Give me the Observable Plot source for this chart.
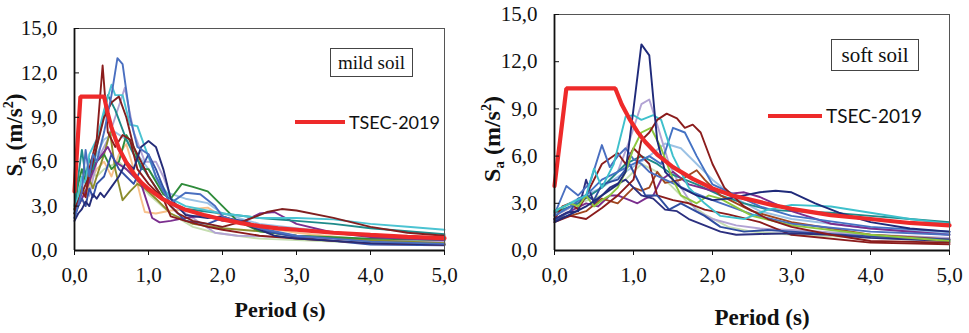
<!DOCTYPE html>
<html>
<head>
<meta charset="utf-8">
<script src="https://cdn.jsdelivr.net/npm/d3@7"></script>
<script src="https://cdn.jsdelivr.net/npm/@observablehq/plot@0.6"></script>
<style>
  body { margin: 0; background: #fff; }
  #wrap { position: relative; width: 969px; height: 333px; background: #fff; overflow: hidden; }
  .panel { position: absolute; top: 0; }
  .ylab { position: absolute; transform: translate(-50%, -50%) rotate(-90deg); white-space: nowrap;
          font: bold 23px "Liberation Serif", "Times New Roman", serif; color: #111; }
  .ylab sub { font-size: 15px; vertical-align: -4px; }
  .ylab sup { font-size: 14px; vertical-align: 9px; }
  .xlab { position: absolute; transform: translate(-50%, -50%); white-space: nowrap;
          font: bold 22px "Liberation Serif", "Times New Roman", serif; color: #111; }
  .box { position: absolute; border: 1px solid #444; background: #fff; box-sizing: border-box;
         font: 19px "Liberation Serif", "Times New Roman", serif; color: #111;
         display: flex; align-items: center; justify-content: center; }
  .leg { position: absolute; white-space: nowrap; font: 18px Lato, "Open Sans", sans-serif; color: #111;
         display: flex; align-items: center; }
  .leg .sw { display: inline-block; height: 4px; background: #EE2A2A; margin-right: 4px; }
</style>
</head>
<body>
<div id="wrap">
  <div id="left" class="panel" style="left:0"></div>
  <div id="right" class="panel" style="left:480px"></div>
  <div class="ylab" style="left:15px; top:135px">S<sub>a</sub> (m/s<sup>2</sup>)</div>
  <div class="ylab" style="left:493px; top:139px; font-size:24px">S<sub>a</sub> (m/s<sup>2</sup>)</div>
  <div class="xlab" style="left:280px; top:310px">Period (s)</div>
  <div class="xlab" style="left:762px; top:318px; font-size:23px">Period (s)</div>
  <div class="box" style="left:330px; top:48px; width:83px; height:29px">mild soil</div>
  <div class="box" style="left:831px; top:39px; width:88px; height:32px; font-size:21px">soft soil</div>
  <div class="leg" style="left:295px; top:111px"><span class="sw" style="width:50px"></span>TSEC-2019</div>
  <div class="leg" style="left:768px; top:104px; font-size:19px"><span class="sw" style="width:54px"></span>TSEC-2019</div>
</div>
<script>
// ---------- tick values ----------
const periodTicks = [0, 1, 2, 3, 4, 5];
const saTicks = [0, 3, 6, 9, 12, 15];

// ---------- TSEC-2019 design spectra [T (s), Sa (m/s2)] ----------
const tsecMild = [[0,4.0],[0.08,10.4],[0.4,10.4],[0.45,9.25],[0.5,8.3],[0.6,6.9],[0.7,5.95],[0.8,5.2],[0.9,4.6],[1.0,4.15],[1.1,3.8],[1.2,3.45],[1.3,3.2],[1.5,2.75],[1.75,2.4],[2.0,2.1],[2.25,1.85],[2.5,1.65],[2.75,1.5],[3.0,1.4],[3.5,1.2],[4.0,1.05],[4.5,0.92],[5.0,0.83]];
const tsecSoft = [[0,4.1],[0.15,10.3],[0.77,10.3],[0.85,9.3],[0.95,8.35],[1.05,7.55],[1.15,6.9],[1.3,6.1],[1.5,5.3],[1.75,4.55],[2.0,3.95],[2.25,3.5],[2.5,3.2],[2.75,2.9],[3.0,2.65],[3.5,2.25],[4.0,2.0],[4.5,1.75],[5.0,1.6]];

// ---------- mild soil records [T, Sa] ----------
const mildLightGreen = [[0,2.5],[0.1,4.5],[0.2,5.5],[0.3,5],[0.4,5.5],[0.6,6],[0.8,5],[1.0,3.8],[1.3,2.5],[1.6,1.6],[1.9,1.2],[2.2,1.0],[2.5,0.8],[3,0.7],[4,0.5],[5,0.4]];
const mildPeach = [[0,2.5],[0.1,3.5],[0.15,3.0],[0.2,4.5],[0.3,5.5],[0.4,6],[0.5,5],[0.6,6.5],[0.7,7.2],[0.8,5.5],[0.9,3.5],[0.95,2.6],[1.1,2.5],[1.3,2.7],[1.6,2.8],[1.8,2.9],[2.0,2.3],[2.5,1.6],[3,1.2],[4,0.7],[5,0.5]];
const mildLightBlue = [[0,2.7],[0.1,4.5],[0.2,5.5],[0.4,7.5],[0.55,8],[0.7,7.5],[0.85,6.5],[1.0,5.5],[1.2,4],[1.5,3.5],[1.8,3.2],[2.0,2.5],[2.5,1.8],[3,1.5],[4,1.0],[5,0.8]];
const mildLavender = [[0,2.5],[0.1,3.6],[0.15,4],[0.2,3.7],[0.3,6],[0.45,7.5],[0.55,9],[0.68,11],[0.8,8],[0.95,6],[1.1,6],[1.2,5],[1.35,3],[1.6,2.2],[1.9,1.2],[2.2,1.0],[3,0.9],[4,0.7],[5,0.6]];
const mildOlive = [[0,2.5],[0.1,4.3],[0.15,3.8],[0.2,4.8],[0.25,4.2],[0.3,5],[0.4,6.5],[0.48,8],[0.55,5.5],[0.65,3.4],[0.75,4],[0.85,4.5],[0.95,4.2],[1.1,3.5],[1.3,2.5],[1.6,1.8],[2,1.5],[2.5,1.3],[3,1.0],[4,0.7],[5,0.5]];
const mildGreen = [[0,2.8],[0.05,4.5],[0.1,5.5],[0.15,4.6],[0.2,5],[0.3,6],[0.4,6.5],[0.5,5.5],[0.6,6],[0.7,7.8],[0.8,7],[0.9,5.5],[1.0,5.5],[1.2,3.8],[1.3,3.5],[1.45,4.5],[1.6,4.3],[1.8,4.0],[2.0,3],[2.2,2.0],[2.5,1.3],[3,1.0],[4,0.8],[5,0.7]];
const mildPurple = [[0,2.5],[0.15,4],[0.3,6],[0.45,7],[0.55,6],[0.7,5.5],[0.9,4.5],[1.05,2.2],[1.15,1.9],[1.3,2],[1.5,2.2],[1.8,2.4],[2.0,2.0],[2.3,2.0],[2.5,2.5],[2.7,2.6],[3,1.8],[3.5,1.2],[4,0.9],[5,0.7]];
const mildTeal = [[0,3],[0.05,5],[0.1,6.8],[0.15,5],[0.2,6.2],[0.25,5.5],[0.3,7],[0.45,10.5],[0.55,9.5],[0.7,7.5],[0.8,6.5],[1.0,5],[1.2,3.5],[1.5,2.8],[2,2.5],[2.5,2.2],[3,2.0],[3.5,1.8],[4,1.5],[5,1.1]];
const mildCyan = [[0,2.5],[0.1,5],[0.15,4.5],[0.2,6.5],[0.3,7.5],[0.4,9.5],[0.5,11.2],[0.55,10.5],[0.65,10.5],[0.75,8.5],[0.85,8.4],[0.95,7],[1.1,5],[1.3,3.5],[1.5,3],[2,2.5],[2.5,2.2],[3,2.2],[3.5,2.1],[4,1.8],[4.5,1.6],[5,1.4]];
const mildRoyal = [[0,2.2],[0.05,3],[0.1,3.5],[0.15,3.0],[0.2,4.2],[0.25,3.6],[0.3,4.5],[0.4,5],[0.5,6.5],[0.6,5.5],[0.7,5],[0.8,4.5],[1.0,6.5],[1.1,5.5],[1.3,3],[1.5,2.0],[1.8,1.8],[2,2.2],[2.3,2.0],[2.6,1.3],[3,0.9],[4,0.4],[5,0.35]];
const mildMaroonLong = [[0,2.8],[0.2,5],[0.4,9],[0.5,10],[0.6,10.4],[0.7,9],[0.8,7],[1.0,5],[1.2,3.5],[1.4,2.5],[1.6,2.0],[1.8,1.8],[2,1.6],[2.3,2.0],[2.6,2.6],[2.8,2.8],[3.0,2.7],[3.5,2.2],[4,1.6],[4.5,1.2],[5,1.0]];
const mildMaroon = [[0,2.5],[0.1,4],[0.15,3.6],[0.2,5.5],[0.3,7.5],[0.38,12.5],[0.45,8],[0.55,7],[0.65,7.8],[0.75,7.5],[0.85,5.5],[1.0,4.5],[1.2,3.5],[1.3,2.3],[1.5,2.0],[1.8,1.6],[2.0,1.4],[2.5,1.0],[3,0.8],[4,0.5],[5,0.4]];
const mildNavy = [[0,2],[0.05,2.5],[0.1,2.8],[0.15,3.3],[0.2,3.0],[0.25,3.8],[0.3,3.5],[0.35,3.9],[0.4,3.6],[0.5,4.3],[0.6,5],[0.7,6],[0.8,5.5],[0.9,7],[1.0,7.4],[1.1,7],[1.2,5.5],[1.3,3.5],[1.5,2.4],[1.8,2.2],[2.0,2.3],[2.3,1.8],[2.7,1.0],[3,0.8],[4,0.5],[5,0.4]];
const mildBlue = [[0,2.2],[0.1,4],[0.15,6.8],[0.2,5],[0.25,6.5],[0.3,6],[0.4,8],[0.5,10.5],[0.58,13],[0.65,12.6],[0.75,9],[0.85,7],[1.0,6.5],[1.1,5],[1.2,4],[1.3,3.2],[1.5,3.9],[1.7,3.8],[1.9,3.0],[2.0,2.3],[2.5,1.5],[3,1.0],[4,0.6],[5,0.45]];

const mildSeries = [mildLightGreen, mildPeach, mildLightBlue, mildLavender, mildOlive, mildGreen, mildPurple, mildTeal, mildCyan, mildRoyal, mildMaroonLong, mildMaroon, mildNavy, mildBlue];
const mildColors = ["#C5DEB0", "#F8C08A", "#9CC2E5", "#B2A3D4", "#8C8C2C", "#2E8B3A", "#7B2E8E", "#1E8A8A", "#4BC3D2", "#3552A8", "#801F1F", "#8B1C1C", "#252C78", "#4A6FC0"];

// ---------- soft soil records [T, Sa] ----------
const softPaleGreen = [[0,2.2],[0.3,3],[0.6,3.5],[0.9,4.5],[1.1,5.5],[1.3,5],[1.5,4],[1.7,3],[1.9,2.3],[2.2,1.5],[2.5,1.2],[3,1.0],[4,0.8],[5,0.6]];
const softLightBlue = [[0,2.5],[0.3,3.3],[0.6,4],[0.9,5],[1.2,6],[1.4,6.8],[1.6,6.5],[1.8,5.5],[2.0,4.5],[2.3,3.3],[2.6,2.5],[3,2.0],[4,1.4],[5,1.1]];
const softLavender = [[0,2.2],[0.3,3],[0.6,4],[0.8,5],[0.95,7],[1.1,9.3],[1.2,9.6],[1.3,8],[1.45,5.5],[1.6,4],[1.8,2.5],[2,2.0],[2.3,1.6],[2.6,1.4],[3,1.3],[4,1.0],[5,0.8]];
const softTeal = [[0,2.4],[0.3,3],[0.6,4],[0.9,5.5],[1.1,6],[1.3,5.5],[1.5,4.8],[1.8,4.2],[2.1,3.5],[2.4,3],[2.7,2.6],[3,2.5],[3.5,2.4],[4,2.2],[4.5,2.0],[5,1.8]];
const softPurple = [[0,2],[0.2,2.5],[0.4,3],[0.55,2.8],[0.7,3.5],[0.8,3.5],[0.95,3.2],[1.05,3],[1.15,3.3],[1.25,3.5],[1.35,4.5],[1.5,5],[1.7,4.2],[2,3.8],[2.2,3.6],[2.4,3.7],[2.6,3.4],[3,2.5],[3.5,1.7],[4,1.4],[5,1.0]];
const softBrown = [[0,2],[0.2,2.2],[0.4,2.5],[0.6,3.3],[0.8,3],[1.0,4],[1.1,3.8],[1.2,4],[1.3,5],[1.4,4.3],[1.6,4.5],[1.8,5.1],[1.9,4.5],[2.1,3.5],[2.5,2.5],[3,1.8],[4,1.0],[5,0.7]];
const softDarkRed = [[0,2],[0.1,2.8],[0.2,3],[0.3,2.6],[0.4,3.5],[0.6,5.5],[0.8,6.2],[0.9,5.5],[1.0,6.5],[1.1,6],[1.2,5.5],[1.3,3.5],[1.5,3.2],[1.7,3],[1.9,2.6],[2.2,2.3],[2.6,1.8],[3,1.0],[4,0.5],[5,0.4]];
const softRoyal = [[0,1.9],[0.2,2.5],[0.3,3.3],[0.4,3.5],[0.5,3.2],[0.6,4.2],[0.8,4.5],[0.95,5.5],[1.05,4.5],[1.15,3.5],[1.3,3.5],[1.45,2.6],[1.6,3],[1.75,2.6],[1.9,2.2],[2.1,1.5],[2.4,1.2],[2.7,1.3],[3,1.2],[4,0.9],[5,0.7]];
const softNavyLow = [[0,2],[0.15,2.4],[0.3,2.5],[0.4,4.5],[0.5,3],[0.7,4],[0.9,4.5],[1.0,4.0],[1.1,3.5],[1.25,3.3],[1.4,2.6],[1.55,2.5],[1.7,2],[1.9,1.6],[2.1,1.2],[2.3,1.0],[2.6,1.05],[3,1.1],[3.5,1.0],[4,0.8],[5,0.6]];
const softMidBlue = [[0,2.3],[0.15,4.1],[0.3,3.5],[0.45,4.3],[0.6,6.7],[0.7,5.3],[0.8,6],[0.9,6.5],[1.0,5.8],[1.1,5.5],[1.2,5],[1.4,4.5],[1.7,3.8],[2,3.2],[2.5,2.3],[3,1.7],[4,1.2],[5,1.0]];
const softBlue = [[0,2.2],[0.2,2.8],[0.4,3.5],[0.6,4.5],[0.8,5],[1,5.5],[1.2,6],[1.35,5.5],[1.5,7.8],[1.65,7.5],[1.8,6],[2.0,4.2],[2.3,3.5],[2.6,2.8],[3,2.2],[4,1.5],[5,1.2]];
const softLime = [[0,2.5],[0.2,3],[0.3,2.8],[0.4,3.5],[0.5,2.8],[0.6,3.2],[0.7,3.5],[0.8,4],[0.9,5],[1.0,6.5],[1.1,7.5],[1.22,7.8],[1.35,6.5],[1.5,4.5],[1.6,3.5],[1.8,3.0],[1.95,3.5],[2.1,3.3],[2.5,2.2],[3,1.6],[4,1.0],[5,0.6]];
const softCyan = [[0,2.5],[0.2,3],[0.4,3.5],[0.5,5.2],[0.6,4],[0.75,5.5],[0.9,8.5],[1.0,8.6],[1.1,8.3],[1.25,8.6],[1.35,8.3],[1.5,6],[1.7,4],[1.9,3],[2.1,2.2],[2.4,2.0],[2.7,2.6],[3,2.9],[3.5,2.8],[4,2.4],[4.5,2.0],[5,1.7]];
const softMaroon = [[0,1.8],[0.2,2.2],[0.4,2.0],[0.6,2.7],[0.8,3.5],[1.0,4.5],[1.1,7],[1.2,7.5],[1.3,8.3],[1.42,8.7],[1.55,8.4],[1.65,7.8],[1.75,8],[1.85,7.5],[2,5.5],[2.15,4],[2.4,2.8],[2.7,2.0],[3,1.5],[3.5,1.0],[4,0.6],[5,0.5]];
const softNavy = [[0,1.8],[0.2,2.3],[0.4,2.8],[0.6,3.5],[0.8,4.2],[0.9,5],[1.0,9],[1.1,13.1],[1.2,12.4],[1.3,7],[1.4,5],[1.6,4],[1.8,3.5],[2.0,3.2],[2.2,3.3],[2.4,3.5],[2.6,3.7],[2.8,3.8],[3.0,3.7],[3.3,3],[3.6,2.4],[4,1.8],[4.5,1.4],[5,1.2]];

const softSeries = [softPaleGreen, softLightBlue, softLavender, softTeal, softPurple, softBrown, softDarkRed, softRoyal, softNavyLow, softMidBlue, softBlue, softLime, softCyan, softMaroon, softNavy];
const softColors = ["#C5DEB0", "#9CC2E5", "#B2A3D4", "#1E8A8A", "#7B2E8E", "#A0461E", "#8B1C1C", "#2E4DA0", "#2B2F7F", "#4A6FC0", "#4472C4", "#8DC63F", "#3EC0CC", "#8B1C1C", "#1F2A7A"];

// ---------- drawing ----------
const fmt = d => d.toFixed(1).replace(".", ",");

function panel({series, colors, design, width, marginTop, marginRight, fontSize}) {
  return Plot.plot({
    width, height: 333,
    marginLeft: 74, marginRight, marginTop, marginBottom: 83,
    x: {domain: [0, 5]},
    y: {domain: [0, 15]},
    style: {fontFamily: '"Liberation Serif", "Times New Roman", serif', fontSize: fontSize + "px", color: "#111", background: "transparent", overflow: "visible"},
    marks: [
      ...series.map((s, i) => Plot.line(s, {x: d => d[0], y: d => d[1], stroke: colors[i], strokeWidth: 1.9})),
      Plot.line(design, {x: d => d[0], y: d => d[1], stroke: "#EE2A2A", strokeWidth: 4.2, strokeLinejoin: "miter"}),
      Plot.frame({stroke: "#555", strokeWidth: 1}),
      Plot.ruleX([0], {stroke: "#111", strokeWidth: 1.8}),
      Plot.ruleY([0], {stroke: "#111", strokeWidth: 1.8}),
      Plot.axisX({ticks: periodTicks, tickFormat: fmt, tickSize: 5, tickPadding: 12, label: null, stroke: "#111"}),
      Plot.axisY({ticks: saTicks, tickFormat: fmt, tickSize: 0, tickPadding: 17, label: null}),
      Plot.axisY({ticks: saTicks, tickFormat: null, text: null, tickSize: -5, label: null, stroke: "#111"})
    ]
  });
}

document.getElementById("left").append(panel({series: mildSeries, colors: mildColors, design: tsecMild, width: 480, marginTop: 28, marginRight: 36, fontSize: 21}));
document.getElementById("right").append(panel({series: softSeries, colors: softColors, design: tsecSoft, width: 489, marginTop: 14, marginRight: 20, fontSize: 21}));
</script>
</body>
</html>
